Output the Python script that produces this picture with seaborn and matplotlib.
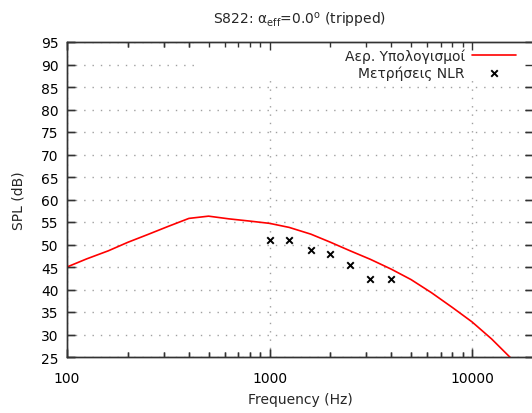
import numpy as np
import pandas as pd
import matplotlib
matplotlib.use("Agg")
import matplotlib.pyplot as plt
from matplotlib.patches import Rectangle
from matplotlib.ticker import LogLocator, NullFormatter, FixedLocator, FuncFormatter
import seaborn as sns

# =========================
# Data
# =========================
freq_calc = [100, 125, 160, 200, 250, 315, 400, 500, 630, 800, 1000, 1250,
             1600, 2000, 2500, 3150, 4000, 5000, 6300, 8000, 10000, 12500, 16000]
spl_calc = [45.0, 46.8, 48.6, 50.5, 52.2, 54.0, 55.8, 56.3, 55.7, 55.2, 54.7, 53.8,
            52.3, 50.5, 48.6, 46.7, 44.5, 42.2, 39.3, 36.0, 32.8, 29.0, 24.2]

freq_meas = [1000, 1250, 1600, 2000, 2500, 3150, 4000]
spl_meas = [50.9, 50.9, 48.8, 47.8, 45.5, 42.4, 42.4]

label_calc = "Αερ. Υπολογισμοί"
label_meas = "Μετρήσεις NLR"

df_calc = pd.DataFrame({"freq": freq_calc, "spl": spl_calc})
df_meas = pd.DataFrame({"freq": freq_meas, "spl": spl_meas})

# =========================
# Plot
# =========================
sns.set_style("white")
plt.rcParams["font.family"] = ["DejaVu Sans"]
plt.rcParams["font.size"] = 10

fig = plt.figure(figsize=(5.32, 4.14), dpi=100)
rect = [67 / 532, 56 / 414, 466 / 532, 315 / 414]
ax = fig.add_axes(rect)

sns.lineplot(data=df_calc, x="freq", y="spl", ax=ax, color="#ff0000",
             linewidth=1.2, label=label_calc, zorder=3)
sns.scatterplot(data=df_meas, x="freq", y="spl", ax=ax, marker="x",
                color="black", s=22, linewidth=1.4, label=label_meas, zorder=3)


def style_axis(a):
    a.set_xscale("log")
    a.set_xlim(100, 20000)
    a.set_ylim(25, 95)
    a.set_yticks(np.arange(25, 96, 5))
    a.xaxis.set_major_locator(FixedLocator([100, 1000, 10000]))
    a.xaxis.set_major_formatter(FuncFormatter(lambda v, p: f"{int(v)}"))
    a.xaxis.set_minor_locator(LogLocator(base=10, subs=np.arange(2, 10)))
    a.xaxis.set_minor_formatter(NullFormatter())
    a.tick_params(which="both", direction="in", bottom=True, left=True,
                  top=True, right=True, colors="#333333", labelcolor="black")
    a.tick_params(which="major", length=6, width=1)
    a.tick_params(which="minor", length=3.5, width=1)
    a.tick_params(axis="x", pad=10)
    a.tick_params(axis="y", pad=6)
    for s in a.spines.values():
        s.set_color("#333333")
        s.set_linewidth(1)


style_axis(ax)
ax.grid(True, which="major", color="#a0a0a0", linestyle=(0, (1, 5)), linewidth=1.0)
ax.set_axisbelow(True)

# opaque key area (hides the grid behind the key)
ax.add_patch(Rectangle((0.285, 0.883), 0.715, 0.117, transform=ax.transAxes,
                       facecolor="white", edgecolor="none", zorder=1.5))

ax.legend(loc="upper right", bbox_to_anchor=(0.991, 1.02), frameon=False,
          markerfirst=False, handlelength=3.2, handletextpad=0.5,
          labelspacing=0.2, fontsize=10)

ax.set_title("S822: α$_{\\mathregular{eff}}$=0.0$^{\\mathregular{o}}$ (tripped)",
             fontsize=10, pad=13.5)
ax.set_xlabel("Frequency (Hz)", fontsize=10, labelpad=5)
ax.set_ylabel("SPL (dB)", fontsize=10, labelpad=11)

# transparent overlay so the ticks stay on top of the key area
ax2 = fig.add_axes(rect, facecolor="none")
style_axis(ax2)
ax2.tick_params(which="both", labelbottom=False, labelleft=False)
ax2.grid(False)

plt.savefig("out.png", dpi=100)
